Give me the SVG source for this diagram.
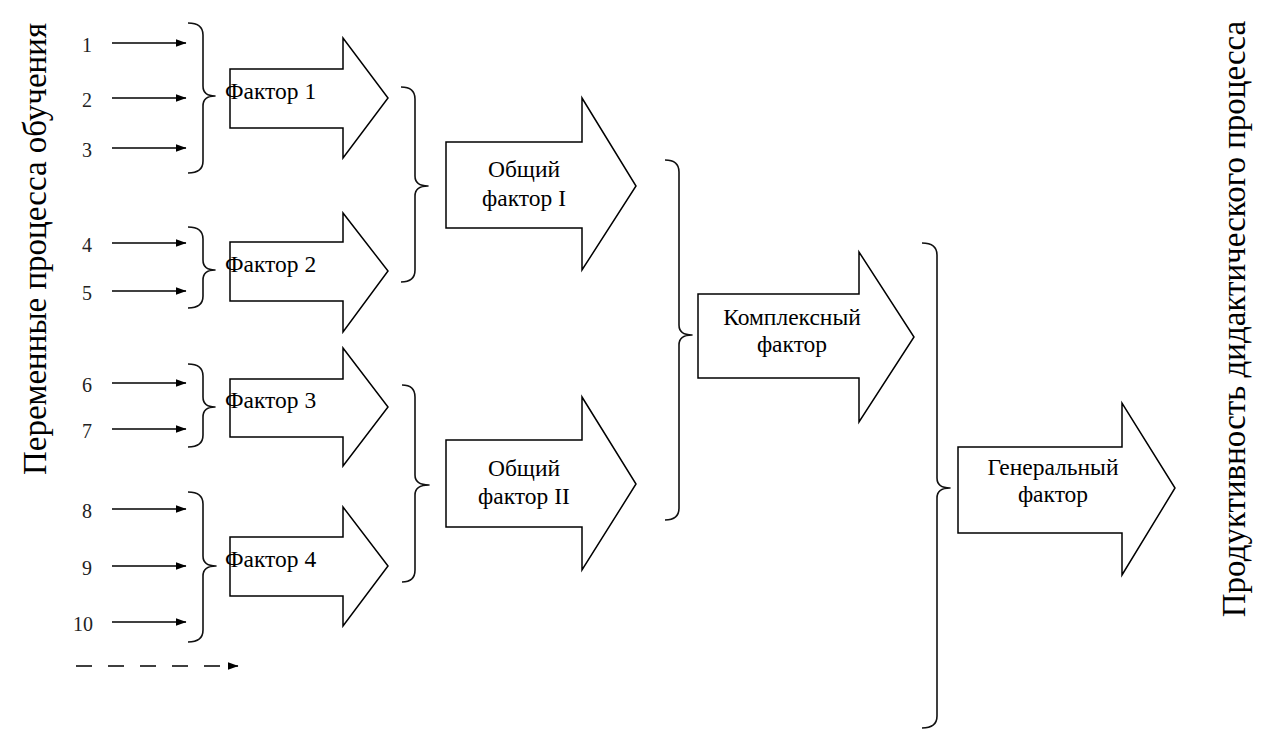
<svg xmlns="http://www.w3.org/2000/svg" width="1262" height="731" viewBox="0 0 1262 731">
  <defs>
    <marker id="head" markerWidth="11" markerHeight="8" refX="10.5" refY="4" orient="auto" markerUnits="userSpaceOnUse">
      <path d="M0,0 L11,4 L0,8 Z" fill="#000"/>
    </marker>
    <style>
      .num { font-family: "Liberation Serif", "DejaVu Serif", serif; font-size: 20px; fill: #222; text-anchor: middle; }
      .lbl { font-family: "Liberation Serif", "DejaVu Serif", serif; font-size: 23.5px; fill: #000; }
      .mid { text-anchor: middle; }
      .side { font-family: "Liberation Serif", "DejaVu Serif", serif; font-size: 33px; fill: #000; text-anchor: middle; }
      .in { stroke: #000; stroke-width: 1.6; fill: none; }
      .brace { stroke: #111; stroke-width: 1.6; fill: none; stroke-linejoin: round; }
      .block { stroke: #000; stroke-width: 1.5; fill: #fff; stroke-linejoin: miter; }
    </style>
  </defs>
  <rect width="1262" height="731" fill="#fff"/>

  <!-- side captions -->
  <text class="side" transform="translate(46,249) rotate(-90)">Переменные процесса обучения</text>
  <text class="side" transform="translate(1245,319) rotate(-90)">Продуктивность дидактического процесса</text>

  <!-- input variables -->
  <g id="variables">
    <text class="num" x="87" y="52">1</text>
    <text class="num" x="87" y="107">2</text>
    <text class="num" x="87" y="157">3</text>
    <text class="num" x="87" y="252">4</text>
    <text class="num" x="87" y="300">5</text>
    <text class="num" x="87" y="392">6</text>
    <text class="num" x="87" y="438">7</text>
    <text class="num" x="87" y="518">8</text>
    <text class="num" x="87" y="575">9</text>
    <text class="num" x="83" y="631">10</text>
  </g>

  <g id="connectors">
    <line class="in" x1="112" y1="43" x2="186" y2="43" marker-end="url(#head)"/>
    <line class="in" x1="112" y1="98" x2="186" y2="98" marker-end="url(#head)"/>
    <line class="in" x1="112" y1="148" x2="186" y2="148" marker-end="url(#head)"/>
    <line class="in" x1="112" y1="243" x2="186" y2="243" marker-end="url(#head)"/>
    <line class="in" x1="112" y1="291" x2="186" y2="291" marker-end="url(#head)"/>
    <line class="in" x1="112" y1="383" x2="186" y2="383" marker-end="url(#head)"/>
    <line class="in" x1="112" y1="429" x2="186" y2="429" marker-end="url(#head)"/>
    <line class="in" x1="112" y1="509" x2="186" y2="509" marker-end="url(#head)"/>
    <line class="in" x1="112" y1="566" x2="186" y2="566" marker-end="url(#head)"/>
    <line class="in" x1="112" y1="622" x2="186" y2="622" marker-end="url(#head)"/>
    <line class="in" x1="76" y1="666" x2="238" y2="666" stroke-dasharray="16 16" marker-end="url(#head)"/>
  </g>

  <!-- grouping braces -->
  <g id="braces">
    <path class="brace" d="M188,23 Q203,23 203,35 L203,86 Q203,96 215,96 Q203,96 203,106 L203,161 Q203,173 188,173"/>
    <path class="brace" d="M188,227 Q203,227 203,239 L203,260 Q203,270 215,270 Q203,270 203,280 L203,296 Q203,308 188,308"/>
    <path class="brace" d="M188,364 Q203,364 203,376 L203,397 Q203,407 215,407 Q203,407 203,417 L203,435 Q203,447 188,447"/>
    <path class="brace" d="M188,492 Q203,492 203,504 L203,556 Q203,566 216,566 Q203,566 203,576 L203,630 Q203,642 188,642"/>
    <path class="brace" d="M401,87 Q415,87 415,99 L415,176 Q415,186 428,186 Q415,186 415,196 L415,270 Q415,282 401,282"/>
    <path class="brace" d="M402,385 Q415,385 415,397 L415,475 Q415,485 429,485 Q415,485 415,495 L415,570 Q415,582 402,582"/>
    <path class="brace" d="M665,160 Q679,160 679,172 L679,325 Q679,335 692,335 Q679,335 679,345 L679,508 Q679,520 665,520"/>
    <path class="brace" d="M922,243 Q937,243 937,255 L937,478 Q937,488 950,488 Q937,488 937,498 L937,716 Q937,728 922,728"/>
  </g>

  <!-- factor arrows -->
  <g id="factor1">
    <polygon class="block" points="230,69 343,69 343,38 388,98 343,158 343,128 230,128"/>
    <text class="lbl" x="225" y="99">Фактор 1</text>
  </g>
  <g id="factor2">
    <polygon class="block" points="230,242 343,242 343,213 388,271 343,332 343,301 230,301"/>
    <text class="lbl" x="225" y="272">Фактор 2</text>
  </g>
  <g id="factor3">
    <polygon class="block" points="230,379 343,379 343,348 388,407 343,466 343,437 230,437"/>
    <text class="lbl" x="225" y="408">Фактор 3</text>
  </g>
  <g id="factor4">
    <polygon class="block" points="230,537 343,537 343,507 388,566 343,626 343,596 230,596"/>
    <text class="lbl" x="225" y="567">Фактор 4</text>
  </g>

  <g id="general1">
    <polygon class="block" points="446,142 582,142 582,98 636,186 582,270 582,228 446,228"/>
    <text class="lbl mid" x="524" y="177">Общий</text>
    <text class="lbl mid" x="524" y="206">фактор I</text>
  </g>
  <g id="general2">
    <polygon class="block" points="446,440 582,440 582,397 636,484 582,570 582,527 446,527"/>
    <text class="lbl mid" x="524" y="476">Общий</text>
    <text class="lbl mid" x="524" y="504">фактор II</text>
  </g>

  <g id="complex">
    <polygon class="block" points="698,294 859,294 859,252 914,337 859,422 859,378 698,378"/>
    <text class="lbl mid" x="792" y="325">Комплексный</text>
    <text class="lbl mid" x="792" y="352">фактор</text>
  </g>

  <g id="overall">
    <polygon class="block" points="958,447 1122,447 1122,403 1175,488 1122,575 1122,533 958,533"/>
    <text class="lbl mid" x="1053" y="475">Генеральный</text>
    <text class="lbl mid" x="1053" y="502">фактор</text>
  </g>
</svg>
